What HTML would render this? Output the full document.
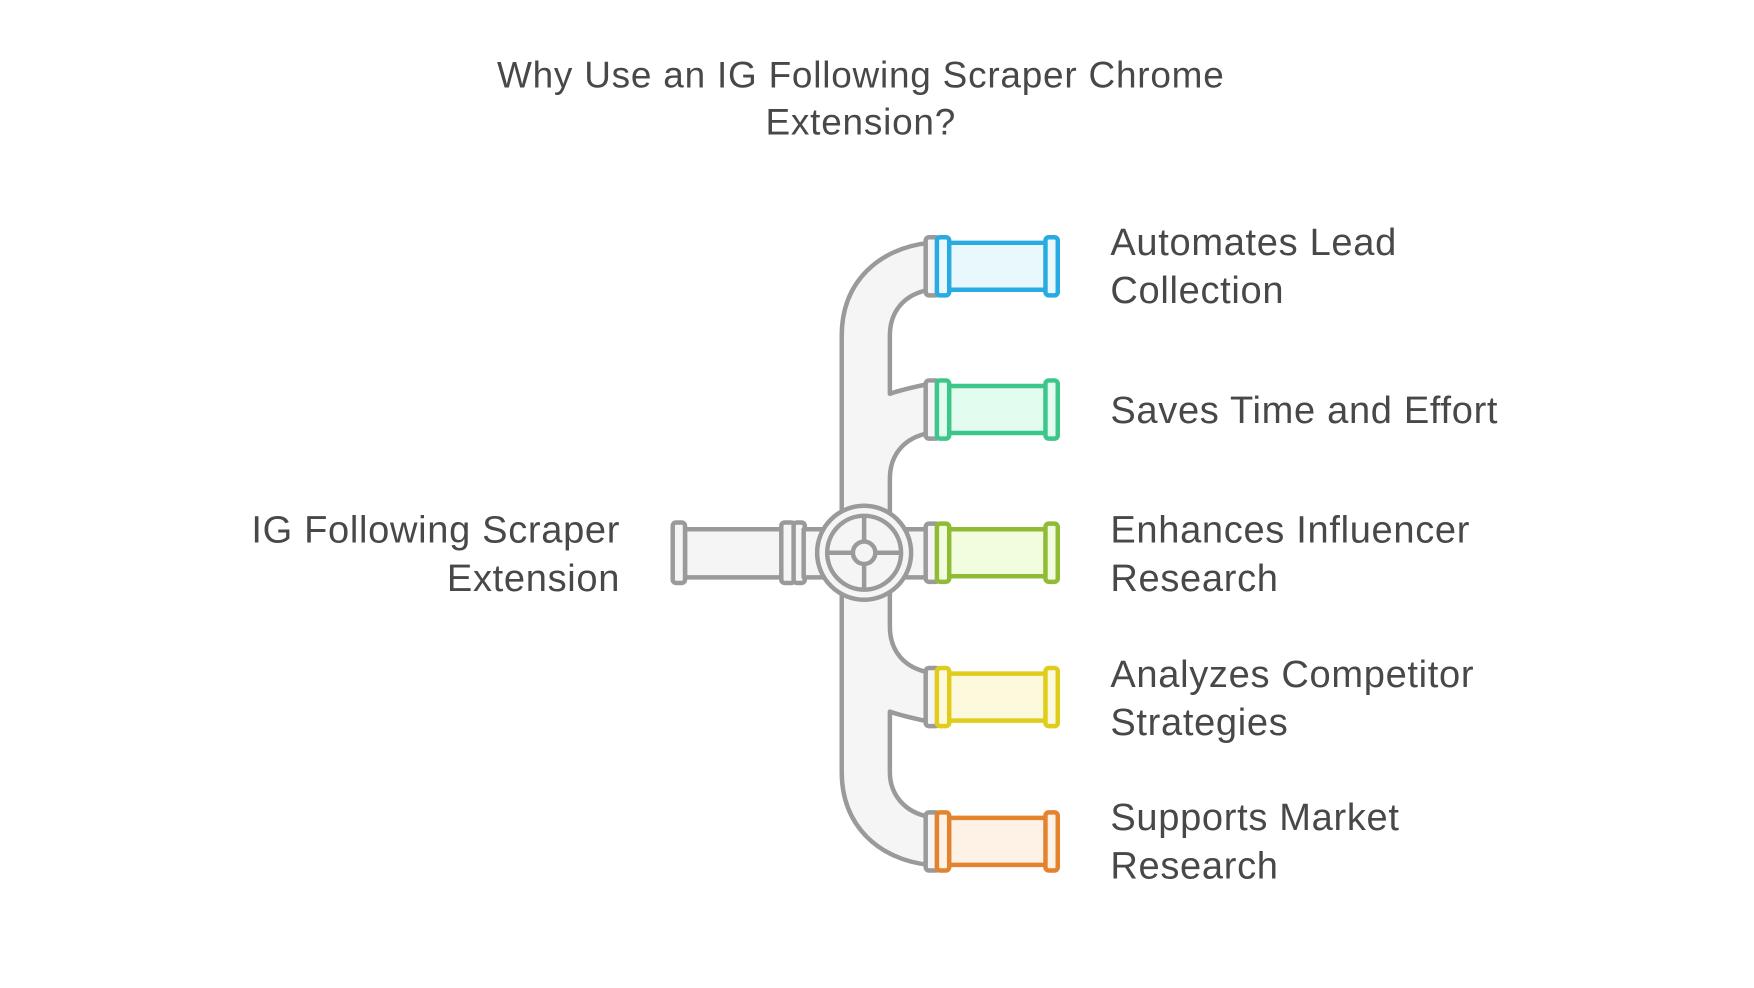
<!DOCTYPE html>
<html><head><meta charset="utf-8"><style>
html,body{margin:0;padding:0;background:#fff;}
svg{display:block;}
text{font-family:"Liberation Sans",sans-serif;fill:#484848;}
</style></head><body>
<svg width="1754" height="988" viewBox="0 0 1567 883" preserveAspectRatio="none" xmlns="http://www.w3.org/2000/svg">
<g letter-spacing="0.7">
<text x="769" y="78" font-size="33" text-anchor="middle">Why Use an IG Following Scraper Chrome</text>
<text x="769" y="120" font-size="33" text-anchor="middle">Extension?</text>
</g>

<g font-size="34" letter-spacing="0.6">
<text x="992" y="228">Automates Lead</text>
<text x="992" y="271">Collection</text>
<text x="992" y="378">Saves Time and Effort</text>
<text x="992" y="485">Enhances Influencer</text>
<text x="992" y="528">Research</text>
<text x="992" y="614">Analyzes Competitor</text>
<text x="992" y="657">Strategies</text>
<text x="992" y="742">Supports Market</text>
<text x="992" y="785">Research</text>
<text x="554" y="485" text-anchor="end">IG Following Scraper</text>
<text x="554" y="528" text-anchor="end">Extension</text>
</g>

<g stroke="#9a9a9a" stroke-width="4" fill="#f5f5f5" stroke-linejoin="round">
<path d="M830,217 C785,222 752,252 752,300 L752,690 C752,738 785,768 830,773 L830,730 C808,726 795,710 795,690 L795,636 C806,640 817,642 830,645 L830,601 C808,597 795,582 795,560 L795,428 C795,406 808,391 830,387 L830,343 C817,346 806,348 795,352 L795,300 C795,278 808,263 830,259 Z"/>
<rect x="612" y="473" width="90" height="43"/>
<rect x="601" y="467" width="11" height="54" rx="3"/>
<rect x="698" y="467" width="12" height="54" rx="3"/>
<rect x="709" y="467" width="10" height="54" rx="3"/>
<rect x="718" y="473" width="20" height="43"/>
<rect x="806" y="473" width="24" height="43"/>
<rect x="827" y="212" width="12" height="52" rx="3"/>
<rect x="827" y="340" width="12" height="52" rx="3"/>
<rect x="827" y="468" width="12" height="52" rx="3"/>
<rect x="827" y="597" width="12" height="52" rx="3"/>
<rect x="827" y="726" width="12" height="52" rx="3"/>
<circle cx="772" cy="494" r="42"/>
<circle cx="772" cy="494" r="33"/>
<line x1="739" y1="494" x2="805" y2="494"/>
<line x1="772" y1="461" x2="772" y2="527"/>
<circle cx="772" cy="494" r="10"/>
</g>

<g stroke-width="4" stroke-linejoin="round">
<g stroke="#29abe2" fill="#e8f8fd">
<rect x="847" y="217" width="89" height="42"/>
<rect x="837" y="212" width="11" height="52" rx="3"/>
<rect x="934" y="212" width="11" height="52" rx="3"/>
</g>
<g stroke="#3cc68a" fill="#e2fcef">
<rect x="847" y="345" width="89" height="42"/>
<rect x="837" y="340" width="11" height="52" rx="3"/>
<rect x="934" y="340" width="11" height="52" rx="3"/>
</g>
<g stroke="#8fbb35" fill="#f2fde0">
<rect x="847" y="473" width="89" height="42"/>
<rect x="837" y="468" width="11" height="52" rx="3"/>
<rect x="934" y="468" width="11" height="52" rx="3"/>
</g>
<g stroke="#e0cc1a" fill="#fdf9dc">
<rect x="847" y="602" width="89" height="42"/>
<rect x="837" y="597" width="11" height="52" rx="3"/>
<rect x="934" y="597" width="11" height="52" rx="3"/>
</g>
<g stroke="#e3832f" fill="#fef2e6">
<rect x="847" y="731" width="89" height="42"/>
<rect x="837" y="726" width="11" height="52" rx="3"/>
<rect x="934" y="726" width="11" height="52" rx="3"/>
</g>
</g>
</svg>
</body></html>
